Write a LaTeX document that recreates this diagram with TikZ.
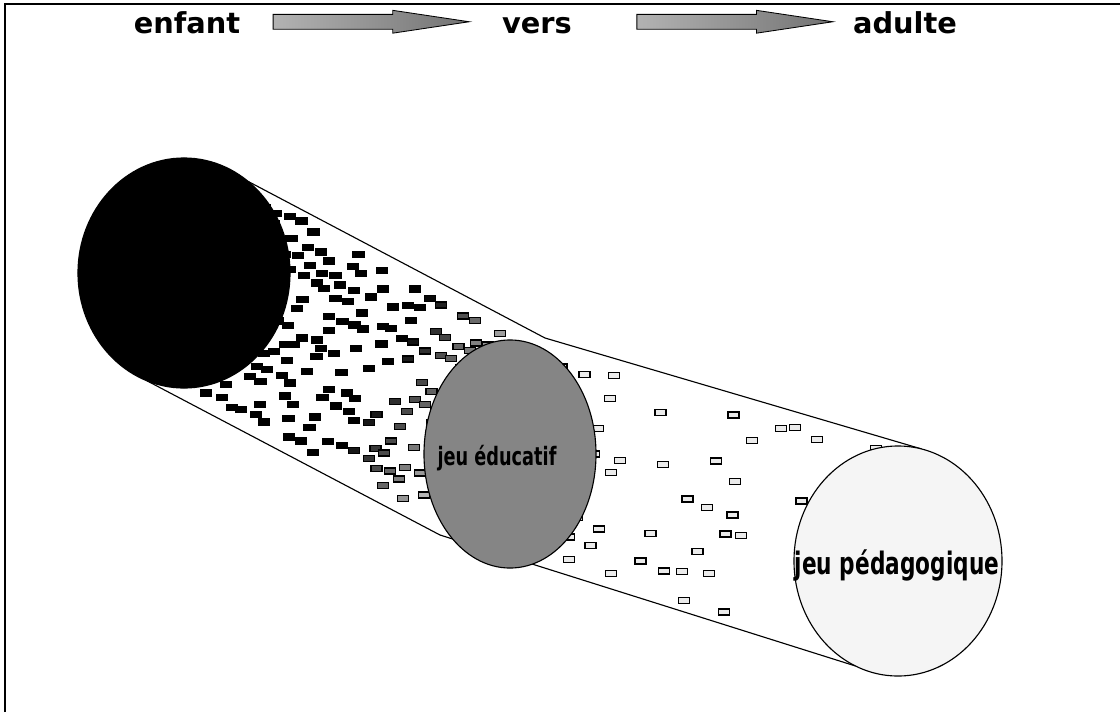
\documentclass[tikz,border=0pt]{standalone}
\usepackage{fontspec}
\setmainfont{DejaVu Sans}
\newfontfamily\narrowfont[FakeStretch=0.7]{DejaVu Sans}
\usetikzlibrary{positioning, shapes.geometric, shapes.arrows, backgrounds, calc}
\tikzset{
  every picture/.style={line width=0.75pt},
  stage/.style={font=\fontsize{20.5}{24}\selectfont\bfseries, inner sep=0pt, text height=16pt, text depth=0pt, anchor=base},
  flowarrow/.style={single arrow, draw=black, line width=0.6pt, left color=black!30, right color=black!55,
    inner sep=0pt, text height=0.35cm, text depth=0pt, minimum height=4.9cm, single arrow head extend=0.1cm,
    single arrow tip angle=17},
  disc/.style={ellipse, draw=black, line width=0.8pt, inner sep=0pt, outer sep=0pt},
  circlabel/.style={font=\narrowfont\bfseries\fontsize{#1}{#1}\selectfont, inner sep=0pt},
  tube/.style={draw=black, line width=0.8pt},
  chip/.style={draw=black, line width=0.9pt},
}

\begin{document}
\begin{tikzpicture}[x=0.025cm, y=-0.025cm]
  \useasboundingbox (0,0) rectangle (1120,712);
  % frame, only its top and left edges fall on the page
  \draw[line width=2pt] (5,712) -- (5,4) -- (1120,4);
  % top row
  \node[stage] (enfant) at (187,33) {enfant};
  \node[stage] (vers) at (537,33) {vers};
  \node[stage] (adulte) at (905,33) {adulte};
  \node[flowarrow, right=0.8cm of enfant] (arr1) {};
  \node[flowarrow, right=1.6cm of vers] (arr2) {};
  % the three stages
  \node[disc, fill=black, minimum width=5.3cm, minimum height=5.75cm] (child) at (184,273) {};
  \node[disc, fill=black!48, minimum width=4.3cm, minimum height=5.7cm] (educ) at (510,454) {};
  \node[disc, fill=black!4, minimum width=5.2cm, minimum height=5.75cm] (peda) at (898,561) {};
  \node[circlabel=18] (educlbl) at (497,458) {jeu éducatif};
  \node[circlabel=22] (pedalbl) at (897,565) {jeu pédagogique};
  \begin{scope}[on background layer]
    \coordinate (upbend) at (545,338);
    \coordinate (lowbend) at (440,535);
    \draw[tube] (child.55) -- (upbend) -- (peda.78);
    \draw[tube] (child.251) -- (lowbend) -- (peda.248);
    % chips, first part of the tube
    \pgfmathsetseed{42}
    \foreach \s in {0.04,0.075,...,0.88}{
      \foreach \u in {-100,-84,...,96}{
        \pgfmathsetmacro{\ss}{\s+0.01*(2*rnd-1)}
        \pgfmathsetmacro{\uu}{\u+4*(2*rnd-1)}
        \pgfmathtruncatemacro{\keep}{rnd<(0.85-0.4*\s)}
        \ifnum\keep=1
          \pgfmathsetmacro{\px}{184+326*\ss-0.485*\uu}
          \pgfmathsetmacro{\py}{273+181*\ss+0.874*\uu}
          \pgfmathtruncatemacro{\tone}{max(20,min(100,100-(\ss-0.6)*280))}
          \filldraw[chip, fill=black!\tone] (\px-5.5,\py-3) rectangle ++(11,6);
        \fi
      }
    }
    % chips, second part of the tube
    \foreach \s in {0.08,0.14,...,0.95}{
      \foreach \u in {-100,-76,...,92}{
        \pgfmathsetmacro{\ss}{\s+0.015*(2*rnd-1)}
        \pgfmathsetmacro{\uu}{\u+6*(2*rnd-1)}
        \pgfmathtruncatemacro{\keep}{rnd<(0.6-0.35*\s)}
        \ifnum\keep=1
          \pgfmathsetmacro{\px}{510+388*\ss-0.266*\uu}
          \pgfmathsetmacro{\py}{454+107*\ss+0.964*\uu}
          \filldraw[chip, fill=black!8] (\px-5.5,\py-3) rectangle ++(11,6);
        \fi
      }
    }
  \end{scope}
\end{tikzpicture}
\end{document}
